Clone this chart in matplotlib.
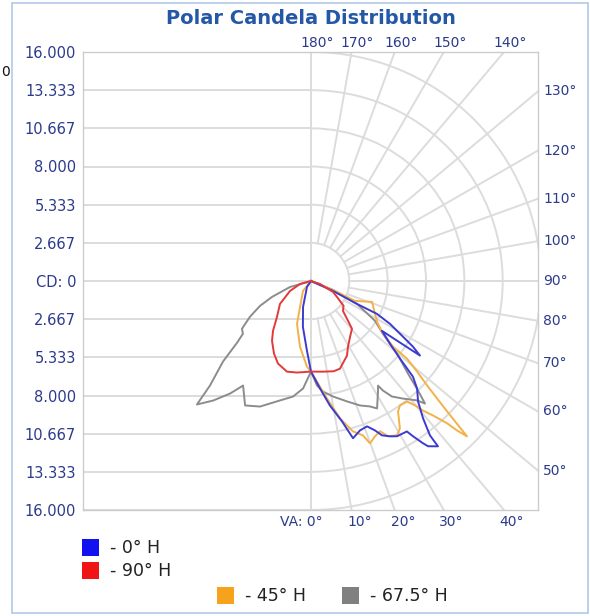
import numpy as np
import matplotlib
matplotlib.use("Agg")
import matplotlib.pyplot as plt
from matplotlib.patches import Arc, Rectangle

# candela values, VA in degrees (negative = left half)
blue_va = [-90, -34, -17, -10, -3.3, 0, 4.8, 8.6, 12.4, 14.9, 18.1, 21.0, 23.1, 24.6, 26.9, 28.9,
           32.4, 33.2, 34.5, 35.2, 37.4, 37.5, 39.1, 41.5, 44.5, 46.7, 48.8, 51.4, 54.8, 55.5,
           57.1, 58.7, 61.4, 63.4, 63.4, 65.6, 90]
blue_cd = [0, 500, 1890, 3250, 4880, 6330, 7540, 8800, 10040, 11370, 10980, 10880, 11350, 11860, 12170, 12390,
           12450, 12970, 13760, 14130, 14540, 13590, 12360, 11240, 10530, 9740, 8230, 7030, 6040, 9200,
           8450, 7490, 6260, 5130, 3580, 1680, 0]

red_va = [-90, -74.7, -64.5, -53.4, -43.4, -37.2, -33, -26.9, -21.7, -14.8, -8.7, 0, 7.5, 14, 18.2,
          25.6, 29.3, 34.9, 40.5, 42.8, 46.8, 52.6, 58.4, 63.4, 71.6, 90]
red_cd = [0, 790, 1620, 2690, 3440, 4370, 4980, 5690, 6210, 6550, 6470, 6330, 6390, 6500, 6450,
          5790, 5260, 4750, 4390, 3790, 3050, 2850, 2120, 1710, 660, 0]

orange_va = [-90, -38.7, -22.9, -18, -9.5, -2.7, 0, 7.7, 11.9, 15.5, 18.5, 19.9, 22.3, 24.6, 26.3, 29.0,
             31.0, 33.6, 35.5, 38.4, 39.8, 40.7, 42.1, 43.6, 44.2, 45.0, 46.1, 46.9, 47.9, 49.4, 50.9,
             51.2, 54.3, 58.2, 71, 65.6, 67.8, 90]
orange_cd = [0, 890, 1960, 3150, 4650, 5990, 6330, 8280, 9810, 10900, 11370, 12060, 11730, 11550, 12100, 12330,
             12010, 10940, 10670, 10750, 11310, 11940, 12660, 13730, 14560, 15350, 13140, 12010, 10880, 9720, 8610,
             7320, 6080, 5410, 4490, 3360, 1650, 0]

gray_va = [-90, -74, -67.7, -63.9, -59.5, -55.2, -52.1, -50, -47.4, -43.9, -42.6, -39.2, -35.6, -32.9,
           -27.8, -22, -14.5, -8.8, -4.2, 0, 3.3, 6.2, 10.7, 16.6, 21.4, 25.1, 27.3, 31.1, 32.5, 33.2,
           34.9, 37.9, 41.5, 42.8, 44.2, 46.2, 49.7, 53.6, 58, 63.4, 67.8, 90]
gray_cd = [0, 1520, 2930, 3950, 4930, 5850, 6000, 6720, 8320, 10130, 11720, 10780, 9670, 8700,
           9830, 9460, 8620, 8170, 7530, 6330, 7320, 7770, 8210, 8780, 9340, 9680, 10020, 9020, 8670, 9150,
           9840, 10410, 11140, 11670, 10680, 9350, 7850, 6220, 5250, 3580, 1650, 0]

series = [("- 67.5° H", gray_va, gray_cd, "#8c8c8c", "#808080"),
          ("- 45° H", orange_va, orange_cd, "#f2b248", "#f7a21c"),
          ("- 0° H", blue_va, blue_cd, "#3b3bd2", "#1212f0"),
          ("- 90° H", red_va, red_cd, "#e23a3a", "#f01414")]

cd_max = 16000
ring_step = cd_max / 6
angle_ticks = list(range(0, 190, 10))

W, H = 590, 616
navy = "#2c3a8c"
grid_c = "#dcdcdc"

fig = plt.figure(figsize=(W / 100, H / 100), dpi=100)
ax = fig.add_axes([83 / W, 1 - 510 / H, 455 / W, 458 / H])
px = cd_max / 230.0
xmin, xmax = -228 * px, 227 * px
ymin, ymax = -228 * px, cd_max
ax.set_xlim(xmin, xmax)
ax.set_ylim(ymin, ymax)

# grid: horizontal lines on left half, rings + rays on right half
levels = np.arange(-6, 7) * ring_step
ax.hlines(levels, xmin, 0, color=grid_c, lw=1.4, zorder=1)
ax.axvline(0, color=grid_c, lw=1.4, zorder=1)
for k in range(1, 7):
    r = k * ring_step
    ax.add_patch(Arc((0, 0), 2 * r, 2 * r, theta1=-90, theta2=90, color=grid_c, lw=1.4, zorder=1))
for a in angle_ticks:
    t = np.radians(a)
    ax.plot([ring_step * np.sin(t), 40000 * np.sin(t)], [-ring_step * np.cos(t), -40000 * np.cos(t)],
            color=grid_c, lw=1.4, zorder=1)

# angle labels where rays leave the box
for a in angle_ticks:
    t = np.radians(a)
    dx, dy = np.sin(t), -np.cos(t)
    cands = []
    if dx > 1e-9:
        cands.append((xmax / dx, "right"))
    if dy > 1e-9:
        cands.append((ymax / dy, "top"))
    if dy < -1e-9:
        cands.append((ymin / dy, "bottom"))
    s, side = min(cands)
    x0, y0 = s * dx, s * dy
    if side == "top":
        ax.annotate(f"{a}°", (x0, y0), xytext=(6, 9), textcoords="offset pixels",
                    ha="center", va="center", fontsize=10, color=navy)
    elif side == "right":
        ax.annotate(f"{a}°", (x0, y0), xytext=(5, 0), textcoords="offset pixels",
                    ha="left", va="center", fontsize=10, color=navy)
    else:
        if a == 0:
            ax.annotate("VA: 0°", (x0, y0), xytext=(12, -14), textcoords="offset pixels",
                        ha="right", va="center", fontsize=10, color=navy)
        else:
            ax.annotate(f"{a}°", (x0, y0), xytext=(9, -14), textcoords="offset pixels",
                        ha="center", va="center", fontsize=10, color=navy)

# candela curves
for name, va, cd, lc, _ in series:
    t = np.radians(va)
    cd = np.array(cd)
    ax.plot(cd * np.sin(t), -cd * np.cos(t), color=lc, lw=1.4, zorder=3)

ylabels = []
for v in levels:
    if abs(v) < 1:
        ylabels.append("CD: 0")
    else:
        ylabels.append(f"{abs(v) / 1000:.3f}")
ax.set_yticks(levels)
ax.set_yticklabels(ylabels)
ax.set_xticks([])
ax.tick_params(axis="y", length=0, pad=5, labelsize=10.5, labelcolor=navy)
for sp in ax.spines.values():
    sp.set_color("#cccccc")
    sp.set_linewidth(1.0)

fig.text(311 / W, 1 - 18 / H, "Polar Candela Distribution", ha="center", va="center",
         fontsize=14, fontweight="bold", color="#2458a6")

# legend squares
legend_pos = {"- 0° H": (82, 539, 110), "- 90° H": (82, 562, 110),
              "- 45° H": (217, 587, 245), "- 67.5° H": (342, 587, 370)}
for name, va, cd, lc, sc in series:
    x0, y0, tx = legend_pos[name]
    fig.add_artist(Rectangle((x0 / W, 1 - (y0 + 17) / H), 17 / W, 17 / H,
                             transform=fig.transFigure, facecolor=sc, edgecolor="none"))
    fig.text(tx / W, 1 - (y0 + 9) / H, name, ha="left", va="center", fontsize=12.5, color="#222222")

# outer frame and leftover glyph at the left edge
fig.add_artist(Rectangle((12 / W, 1 - 613 / H), 576 / W, 610 / H, transform=fig.transFigure,
                         fill=False, edgecolor="#b2c9ea", lw=1.2))
fig.text(1 / W, 1 - 72 / H, "0", ha="left", va="center", fontsize=10, color="#111111")

fig.savefig("out.png", dpi=100)
